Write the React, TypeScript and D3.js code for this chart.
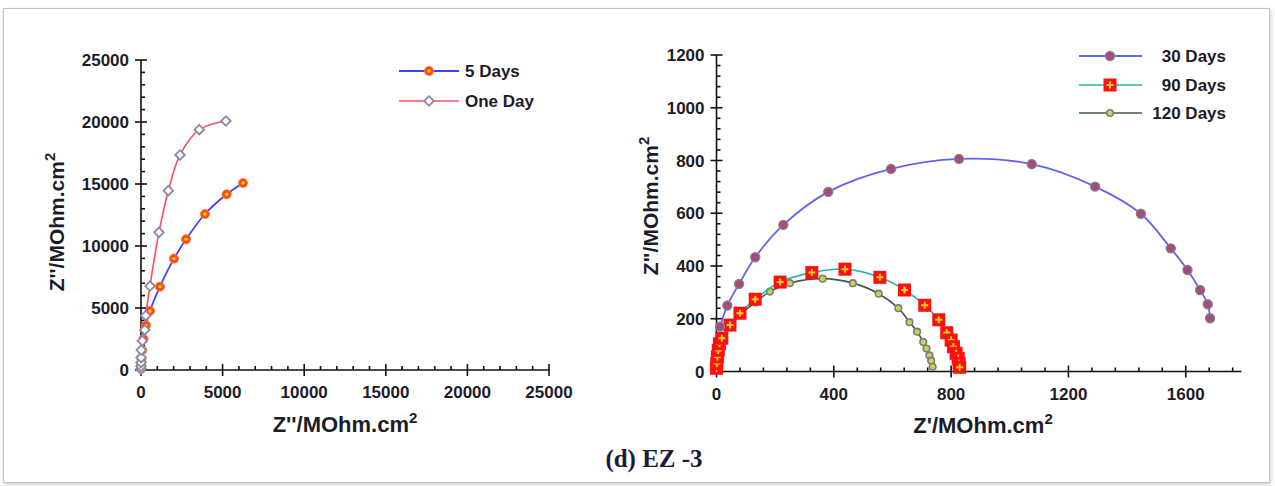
import React from "react";
import * as d3 from "d3";

// ---------- DATA ----------
// Left panel (Z' , Z'')
const fiveDaysZr = [2, 10, 30, 70, 150, 300, 550, 1160, 2020, 2760, 3920, 5250, 6250];
const fiveDaysZi = [100, 400, 900, 1600, 2500, 3600, 4760, 6720, 8980, 10540, 12580, 14170, 15080];
const oneDayZr = [0, 1, 4, 10, 20, 85, 225, 290, 550, 1100, 1675, 2390, 3570, 5200];
const oneDayZi = [80, 300, 600, 1000, 1610, 2360, 3230, 4380, 6770, 11100, 14460, 17340, 19380, 20080];

// Right panel
const d30Zr = [12, 37, 77, 132, 228, 381, 595, 827, 1075, 1291, 1447, 1549, 1606, 1649, 1675, 1683];
const d30Zi = [170, 250, 332, 433, 556, 681, 768, 806, 786, 701, 598, 467, 385, 309, 255, 202];
const d90Zr = [0, 1, 3, 6, 10, 18, 46, 80, 132, 217, 325, 438, 557, 641, 710, 758, 785, 800, 808, 817, 824, 827, 829];
const d90Zi = [12, 30, 55, 80, 105, 126, 176, 221, 274, 339, 375, 388, 357, 309, 251, 196, 147, 119, 94, 69, 50, 31, 16];
const d120Zr = [0, 1, 2, 4, 6, 18, 52, 80, 132, 182, 250, 362, 465, 553, 620, 658, 684, 705, 716, 726, 732, 737];
const d120Zi = [10, 24, 43, 68, 94, 126, 176, 214, 262, 303, 335, 352, 335, 295, 240, 187, 151, 112, 87, 61, 41, 18];

const leftXTicks = [0, 5000, 10000, 15000, 20000, 25000];
const leftYTicks = [0, 5000, 10000, 15000, 20000, 25000];
const rightXTicks = [0, 400, 800, 1200, 1600];
const rightYTicks = [0, 200, 400, 600, 800, 1000, 1200];

const leftLegend = ["5 Days", "One Day"];
const rightLegend = ["30 Days", "90 Days", "120 Days"];
const caption = "(d) EZ -3";

// ---------- STYLE ----------
const FONT = "'Liberation Sans', Arial, sans-serif";
const TXT = "#1c1c28";

const zip = (a: number[], b: number[]) => a.map((v, i) => [v, b[i]] as [number, number]);

function Circle5({ x, y }: { x: number; y: number }) {
  return (
    <g>
      <circle cx={x} cy={y} r={4.6} fill="#ff4a12" stroke="#ff7a3a" strokeWidth={0.8} />
      <circle cx={x} cy={y} r={1.7} fill="#ffd81a" />
    </g>
  );
}
function Diamond({ x, y }: { x: number; y: number }) {
  const s = 4.8;
  return (
    <path
      d={`M${x},${y - s}L${x + s},${y}L${x},${y + s}L${x - s},${y}Z`}
      fill="#ffffff"
      stroke="#8a88a8"
      strokeWidth={1.8}
    />
  );
}
function Dot30({ x, y }: { x: number; y: number }) {
  return <circle cx={x} cy={y} r={4.6} fill="#a24f78" stroke="#8a8296" strokeWidth={1.2} />;
}
function Square90({ x, y }: { x: number; y: number }) {
  const h = 6.5;
  return (
    <g>
      <rect x={x - h} y={y - h} width={2 * h} height={2 * h} fill="#ff1010" />
      <path d={`M${x - 3.5},${y}H${x + 3.5}M${x},${y - 3.5}V${y + 3.5}`} stroke="#ffd21a" strokeWidth={2} />
    </g>
  );
}
function Dot120({ x, y }: { x: number; y: number }) {
  return <circle cx={x} cy={y} r={3.3} fill="#cdd34a" stroke="#7c7c88" strokeWidth={1.6} />;
}

function Axes({
  x,
  y,
  xTicks,
  yTicks,
  xMinor,
  yMinor,
  xEnd,
  yEnd,
}: {
  x: d3.ScaleLinear<number, number>;
  y: d3.ScaleLinear<number, number>;
  xTicks: number[];
  yTicks: number[];
  xMinor: number;
  yMinor: number;
  xEnd: number;
  yEnd: number;
}) {
  const x0 = x(0);
  const y0 = y(0);
  const xm = d3.range(0, xEnd + 1e-6, xMinor).filter((v) => !xTicks.includes(v));
  const ym = d3.range(0, yEnd + 1e-6, yMinor).filter((v) => !yTicks.includes(v));
  return (
    <g stroke="#111" strokeWidth={1.6} fill="none">
      <line x1={x0} x2={x(xEnd)} y1={y0} y2={y0} />
      <line x1={x0} x2={x0} y1={y0} y2={y(yEnd)} />
      {xTicks.map((t) => (
        <line key={"xt" + t} x1={x(t)} x2={x(t)} y1={y0 - 6} y2={y0 + 6} />
      ))}
      {xm.map((t) => (
        <line key={"xm" + t} x1={x(t)} x2={x(t)} y1={y0 - 4} y2={y0} />
      ))}
      {yTicks.map((t) => (
        <line key={"yt" + t} x1={x0 - 6} x2={x0 + 6} y1={y(t)} y2={y(t)} />
      ))}
      {ym.map((t) => (
        <line key={"ym" + t} x1={x0} x2={x0 + 4} y1={y(t)} y2={y(t)} />
      ))}
      <g stroke="none" fill={TXT} fontFamily={FONT} fontWeight="bold" fontSize={17}>
        {xTicks.map((t) => (
          <text key={"xl" + t} x={x(t)} y={y0 + 28} textAnchor="middle">
            {t}
          </text>
        ))}
        {yTicks.map((t) => (
          <text key={"yl" + t} x={x0 - 12} y={y(t) + 6} textAnchor="end">
            {t}
          </text>
        ))}
      </g>
    </g>
  );
}

function Title({ label, sup, ...rest }: any) {
  return (
    <text fill={TXT} fontFamily={FONT} fontWeight="bold" fontSize={22} textAnchor="middle" {...rest}>
      {label}
      <tspan fontSize={15} dy={-9}>
        {sup}
      </tspan>
    </text>
  );
}

export default function App() {
  const W = 1275;
  const H = 486;

  const xL = d3.scaleLinear().domain([0, 25000]).range([141, 549]);
  const yL = d3.scaleLinear().domain([0, 25000]).range([370, 60]);
  const xR = d3.scaleLinear().domain([0, 1800]).range([716.5, 1244.4]);
  const yR = d3.scaleLinear().domain([0, 1200]).range([371.5, 55]);

  const lineL = d3
    .line<[number, number]>()
    .x((d) => xL(d[0]))
    .y((d) => yL(d[1]))
    .curve(d3.curveCatmullRom.alpha(0.5));
  const lineR = d3
    .line<[number, number]>()
    .x((d) => xR(d[0]))
    .y((d) => yR(d[1]))
    .curve(d3.curveCatmullRom.alpha(0.5));

  const five = zip(fiveDaysZr, fiveDaysZi);
  const one = zip(oneDayZr, oneDayZi);
  const s30 = zip(d30Zr, d30Zi);
  const s90 = zip(d90Zr, d90Zi);
  const s120 = zip(d120Zr, d120Zi);

  return (
    <svg
      width={W}
      height={H}
      viewBox={`0 0 ${W} ${H}`}
      style={{ position: "absolute", left: 0, top: 0, background: "#fff" }}
    >
      <defs>
        <filter id="sh" x="-2%" y="-2%" width="104%" height="106%">
          <feDropShadow dx="1" dy="2" stdDeviation="2" floodColor="#000" floodOpacity="0.18" />
        </filter>
      </defs>
      <rect x={0} y={0} width={W} height={H} fill="#fff" />
      <rect x={3.5} y={8.5} width={1266} height={474} fill="#fff" stroke="#c4c4c4" strokeWidth={1} filter="url(#sh)" />

      {/* LEFT PANEL */}
      <Axes x={xL} y={yL} xTicks={leftXTicks} yTicks={leftYTicks} xMinor={1000} yMinor={1000} xEnd={25000} yEnd={25000} />
      <path d={lineL(five) || ""} fill="none" stroke="#4040ff" strokeWidth={1.8} />
      {five.map((d, i) => (
        <Circle5 key={"f" + i} x={xL(d[0])} y={yL(d[1])} />
      ))}
      <path d={lineL(one) || ""} fill="none" stroke="#ff4d5e" strokeWidth={1.6} />
      {one.map((d, i) => (
        <Diamond key={"o" + i} x={xL(d[0])} y={yL(d[1])} />
      ))}
      <Title label={"Z''/MOhm.cm"} sup="2" x={345} y={432} />
      <Title label={"Z''/MOhm.cm"} sup="2" transform="translate(64,222) rotate(-90)" x={0} y={0} fontSize={21} />

      {/* left legend */}
      <g>
        <line x1={399} x2={459} y1={71} y2={71} stroke="#4040ff" strokeWidth={1.8} />
        <Circle5 x={429} y={71} />
        <line x1={399} x2={459} y1={101} y2={101} stroke="#ff4d5e" strokeWidth={1.6} />
        <Diamond x={429} y={101} />
        <g fill={TXT} fontFamily={FONT} fontWeight="bold" fontSize={17}>
          <text x={465} y={77}>{leftLegend[0]}</text>
          <text x={465} y={107}>{leftLegend[1]}</text>
        </g>
      </g>

      {/* RIGHT PANEL */}
      <Axes x={xR} y={yR} xTicks={rightXTicks} yTicks={rightYTicks} xMinor={80} yMinor={40} xEnd={1790} yEnd={1200} />
      <path d={lineR(s120) || ""} fill="none" stroke="#3f5a44" strokeWidth={1.6} />
      {s120.map((d, i) => (
        <Dot120 key={"c" + i} x={xR(d[0])} y={yR(d[1])} />
      ))}
      <path d={lineR(s90) || ""} fill="none" stroke="#2fb3a4" strokeWidth={1.6} />
      {s90.map((d, i) => (
        <Square90 key={"n" + i} x={xR(d[0])} y={yR(d[1])} />
      ))}
      <path d={lineR(s30) || ""} fill="none" stroke="#6262f2" strokeWidth={1.8} />
      {s30.map((d, i) => (
        <Dot30 key={"t" + i} x={xR(d[0])} y={yR(d[1])} />
      ))}
      <Title label={"Z'/MOhm.cm"} sup="2" x={983} y={433} />
      <Title label={"Z\"/MOhm.cm"} sup="2" transform="translate(658,206) rotate(-90)" x={0} y={0} fontSize={21} />

      {/* right legend */}
      <g>
        <line x1={1079} x2={1142} y1={56} y2={56} stroke="#6262f2" strokeWidth={1.8} />
        <Dot30 x={1110} y={56} />
        <line x1={1079} x2={1142} y1={85} y2={85} stroke="#2fb3a4" strokeWidth={1.6} />
        <Square90 x={1110} y={85} />
        <line x1={1079} x2={1142} y1={113} y2={113} stroke="#3f5a44" strokeWidth={1.6} />
        <Dot120 x={1110} y={113} />
        <g fill={TXT} fontFamily={FONT} fontWeight="bold" fontSize={17} textAnchor="end">
          <text x={1226} y={62}>{rightLegend[0]}</text>
          <text x={1226} y={91}>{rightLegend[1]}</text>
          <text x={1226} y={119}>{rightLegend[2]}</text>
        </g>
      </g>

      {/* caption */}
      <text
        x={654}
        y={467}
        fill="#1a1a3a"
        fontFamily="'Liberation Serif', 'Times New Roman', serif"
        fontWeight="bold"
        fontSize={25}
        textAnchor="middle"
      >
        {caption}
      </text>
    </svg>
  );
}
